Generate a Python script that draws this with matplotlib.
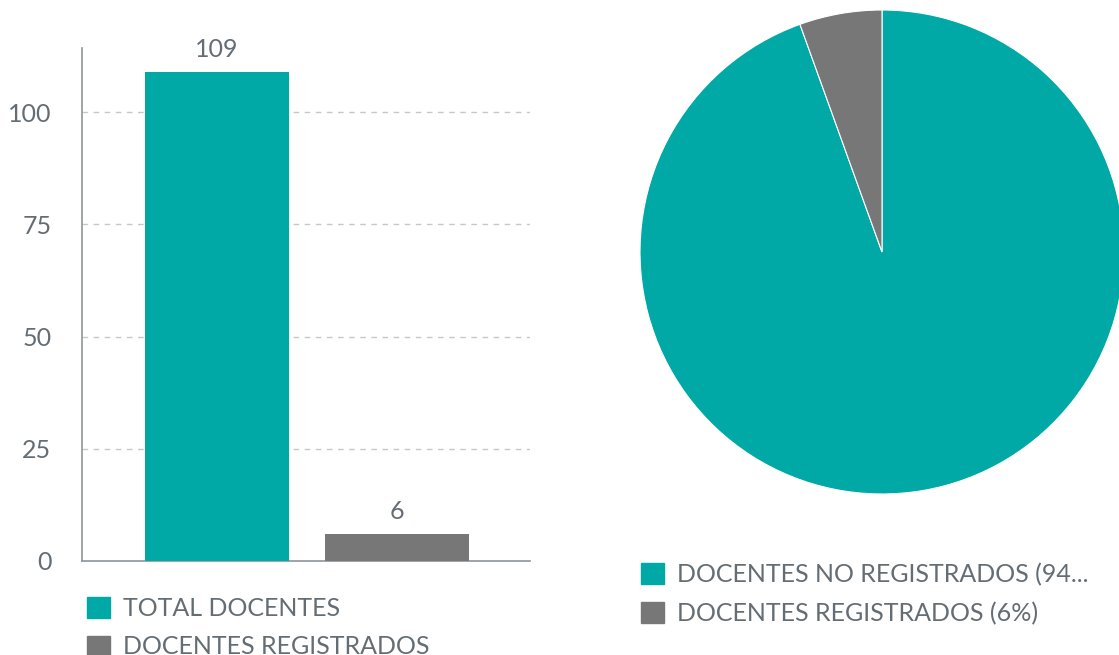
import matplotlib
matplotlib.use("Agg")
import matplotlib.pyplot as plt
from matplotlib.patches import Patch

# data
bar_labels = ["TOTAL DOCENTES", "DOCENTES REGISTRADOS"]
bar_values = [109, 6]
pie_labels = ["DOCENTES NO REGISTRADOS (94...", "DOCENTES REGISTRADOS (6%)"]
pie_values = [103, 6]
y_ticks = [0, 25, 50, 75, 100]

teal = "#00a9a5"
grey = "#777777"
txt = "#646d74"

plt.rcParams["font.family"] = ["Lato", "DejaVu Sans"]

W, H = 1119, 655
fig = plt.figure(figsize=(W / 100, H / 100), dpi=100)

def box(x0, y0, x1, y1):
    return [x0 / W, 1 - y1 / H, (x1 - x0) / W, (y1 - y0) / H]

fs = 18

# bar chart
ax = fig.add_axes(box(82, 48, 530, 561))
xs = range(len(bar_values))
bars = ax.bar(xs, bar_values, width=0.8, color=[teal, grey], zorder=3)
ax.set_xlim(-0.75, 1.74)
ax.set_ylim(0, 114.3)
ax.set_yticks(y_ticks)
ax.set_xticks([])
ax.tick_params(axis="y", length=0, pad=22, labelsize=fs, labelcolor=txt)
ax.yaxis.grid(True, linestyle=(0, (4, 4)), color="#c4c8cb", linewidth=1, zorder=0)
for s in ["top", "right"]:
    ax.spines[s].set_visible(False)
for s in ["left", "bottom"]:
    ax.spines[s].set_color("#8f959a")
    ax.spines[s].set_linewidth(1.2)
for b, v in zip(bars, bar_values):
    ax.text(b.get_x() + b.get_width() / 2, v + 2.5, str(v), ha="center", va="bottom",
            fontsize=fs, color=txt)

handles = [Patch(color=c) for c in [teal, grey]]
leg_kw = dict(loc="upper left", frameon=False, fontsize=fs, labelcolor=txt,
              handlelength=0.9, handleheight=0.9, handletextpad=0.55,
              labelspacing=0.62, borderaxespad=0, borderpad=0)
fig.legend(handles, bar_labels, bbox_to_anchor=(87 / W, 1 - 597 / H), **leg_kw)

# pie chart
r = 242
cx, cy = 882, 252
pax = fig.add_axes(box(cx - r, cy - r, cx + r, cy + r))
pax.pie(pie_values, colors=[teal, grey], startangle=90, counterclock=False,
        wedgeprops=dict(edgecolor="white", linewidth=0.8))
pax.set_xlim(-1, 1)
pax.set_ylim(-1, 1)
pax.set_aspect("equal")

fig.legend(handles, pie_labels, bbox_to_anchor=(641 / W, 1 - 563 / H), **leg_kw)

fig.savefig("out.png", dpi=100)
